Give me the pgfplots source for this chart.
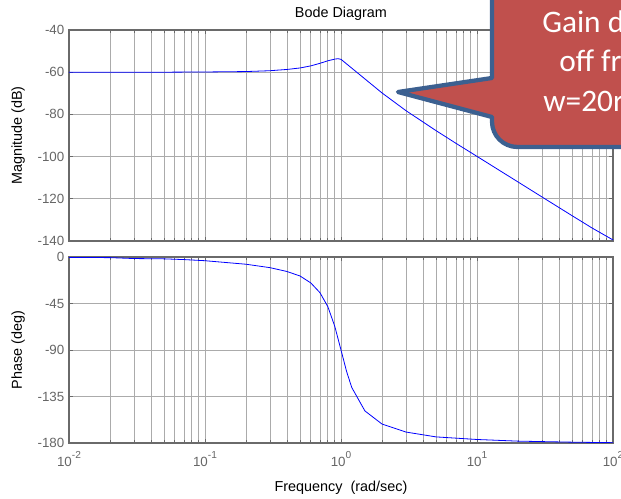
\documentclass[border=0pt]{standalone}
\usepackage{fontspec}
\setmainfont{Liberation Sans}
\newfontfamily\calibri{Carlito}
\usepackage{pgfplots}
\usepackage{pgfplotstable}
\pgfplotsset{compat=1.18}
\definecolor{calloutred}{HTML}{C0504D}
\definecolor{calloutblue}{HTML}{3C6090}
\definecolor{gridc}{HTML}{ABABAB}
\definecolor{axc}{HTML}{6A6A6A}
\definecolor{tickc}{HTML}{666666}

\pgfplotstableread{
w db
0.01 -60.0
0.02 -60.0
0.05 -60.0
0.1 -59.9
0.2 -59.7
0.3 -59.3
0.4 -58.7
0.5 -58.0
0.6 -57.0
0.7 -55.8
0.8 -54.6
0.9 -53.8
0.95 -53.6
1.0 -53.9
2.0 -69.8
3.0 -78.2
5.0 -87.7
7.0 -93.7
10 -99.9
20 -112.0
30 -119.1
50 -128.0
70 -133.8
100 -139.5
}\magdata

\pgfplotstableread{
w ph
0.01 -0.5
0.02 -0.6
0.03 -1.5
0.05 -1.8
0.07 -2.5
0.1 -3.6
0.2 -7.0
0.3 -10.3
0.4 -14.0
0.5 -18.4
0.6 -25.1
0.7 -34.5
0.8 -48.0
0.9 -67.1
1.0 -90.0
1.1 -110.9
1.2 -126.3
1.5 -149.0
2 -161.6
3 -169.4
5 -174.1
10 -176.6
20 -178.2
50 -179.2
100 -179.7
}\phdata

\newcommand{\tp}[1]{10\raisebox{6pt}{\fontsize{7.6}{8}\selectfont #1}}

\begin{document}
\begin{tikzpicture}
\useasboundingbox (0,0) rectangle (465.75pt,374.25pt);
\begin{semilogxaxis}[
  scale only axis, width=408pt, xmin=0.01, xmax=100,
  axis line style={axc, line width=1pt},
  xmajorgrids, xminorgrids, ymajorgrids,
  major grid style={gridc, line width=0.55pt},
  minor grid style={gridc, line width=0.55pt},
  tick style={axc, line width=0.5pt},
  major tick length=3pt, minor tick length=2.5pt,
  tick align=inside,
  tick label style={font=\fontsize{10}{12}\selectfont, text=tickc},
  /pgf/number format/assume math mode=true,
  at={(51.75pt,193.5pt)}, anchor=south west,
  height=158.25pt, ymin=-140, ymax=-40, ytick={-140,-120,-100,-80,-60,-40},
  xticklabels={},
  ylabel={Magnitude (dB)},
  ylabel style={at={(axis description cs:-0.0935,0.5)}, anchor=center, font=\fontsize{10.8}{12}\selectfont},
  title={Bode Diagram},
  every axis title shift=0pt,
  title style={at={(axis description cs:0.5,1.0758)}, anchor=center, yshift=0pt, font=\fontsize{10.8}{12}\selectfont},
]
\addplot[blue, line width=0.6pt] table[x=w, y=db] {\magdata};
\end{semilogxaxis}
\begin{semilogxaxis}[
  scale only axis, width=408pt, xmin=0.01, xmax=100,
  axis line style={axc, line width=1pt},
  xmajorgrids, xminorgrids, ymajorgrids,
  major grid style={gridc, line width=0.55pt},
  minor grid style={gridc, line width=0.55pt},
  tick style={axc, line width=0.5pt},
  major tick length=3pt, minor tick length=2.5pt,
  tick align=inside,
  tick label style={font=\fontsize{10}{12}\selectfont, text=tickc},
  /pgf/number format/assume math mode=true,
  at={(51.75pt,42pt)}, anchor=south west,
  height=139.5pt, ymin=-180, ymax=0, ytick={-180,-135,-90,-45,0},
  xtick={0.01,0.1,1,10,100},
  xticklabels={\tp{-2},\tp{-1},\tp{0},\tp{1},\tp{2}},
  xticklabel style={yshift=-3pt},
  ylabel={Phase (deg)},
  ylabel style={at={(axis description cs:-0.0935,0.5)}, anchor=center, font=\fontsize{10.8}{12}\selectfont},
  xlabel={Frequency\ \ (rad/sec)},
  xlabel style={at={(axis description cs:0.5,-0.242)}, anchor=center, font=\fontsize{10.8}{12}\selectfont},
]
\addplot[blue, line width=0.6pt] table[x=w, y=ph] {\phdata};
\end{semilogxaxis}
\begin{scope}[x=0.75pt, y=-0.75pt, yshift=374.25pt]
\draw[fill=calloutred, draw=calloutblue, line width=3.2pt, line join=round]
  (720,-30) -- (492,-30) -- (492,78) -- (398,92) -- (492,117)
  {[rounded corners=19pt] -- (492,147) -- (720,147)} -- cycle;
\node[anchor=base west, inner sep=0, text=white, font=\calibri\fontsize{23.5}{28}\selectfont] at (542,33) {Gain drops};
\node[anchor=base west, inner sep=0, text=white, font=\calibri\fontsize{23.5}{28}\selectfont] at (559,72) {off from};
\node[anchor=base west, inner sep=0, text=white, font=\calibri\fontsize{23.5}{28}\selectfont] at (543,112) {w=20rad/s};
\end{scope}
\end{tikzpicture}
\end{document}
